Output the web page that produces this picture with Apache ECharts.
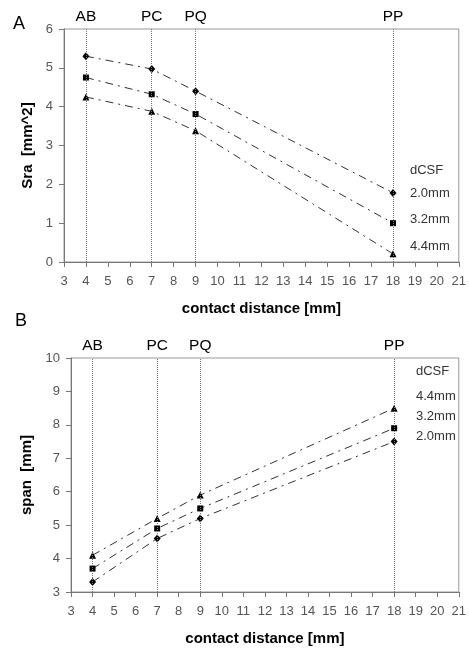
<!DOCTYPE html>
<html>
<head>
<meta charset="utf-8">
<script src="https://cdn.jsdelivr.net/npm/echarts@6/dist/echarts.min.js"></script>
<style>
html,body{margin:0;padding:0;background:#fff;}
#chart{width:469px;height:650px;}
</style>
</head>
<body>
<div id="chart"></div>
<script>
// Data
const contactDistance = [4, 7, 9, 18];
const contactLabels = ['AB', 'PC', 'PQ', 'PP'];
const seriesNames = ['2.0mm', '3.2mm', '4.4mm'];
const sraValues = {
  '2.0mm': [5.30, 4.97, 4.40, 1.78],
  '3.2mm': [4.75, 4.32, 3.81, 1.00],
  '4.4mm': [4.25, 3.88, 3.38, 0.21]
};
const spanValues = {
  '2.0mm': [3.3, 4.6, 5.2, 7.5],
  '3.2mm': [3.7, 4.9, 5.5, 7.9],
  '4.4mm': [4.1, 5.2, 5.9, 8.5]
};
const legendTitle = 'dCSF';
const symbols = {'2.0mm': 'diamond', '3.2mm': 'rect', '4.4mm': 'triangle'};
const symbolSizes = {'2.0mm': [7, 8], '3.2mm': 6, '4.4mm': 7};

const FONT = 'Liberation Sans, Arial, sans-serif';
const chart = echarts.init(document.getElementById('chart'));

function pairs(vals) { return contactDistance.map((x, i) => [x, vals[i]]); }

function xAxisDef(idx) {
  return {
    type: 'value', gridIndex: idx, min: 3, max: 21, interval: 1,
    name: 'contact distance [mm]', nameLocation: 'middle', nameGap: 39,
    nameTextStyle: {fontFamily: FONT, fontWeight: 'bold', fontSize: 15, color: '#000'},
    axisLine: {show: true, onZero: false, lineStyle: {color: '#777', width: 1}},
    axisTick: {show: true, length: 5, lineStyle: {color: '#777'}},
    axisLabel: {fontFamily: FONT, fontSize: 13, color: '#555', margin: 13},
    splitLine: {show: false}
  };
}
function yAxisDef(idx, min, max, name) {
  return {
    type: 'value', gridIndex: idx, min: min, max: max, interval: 1,
    name: name, nameLocation: 'middle', nameGap: 25, nameRotate: 90,
    nameTextStyle: {fontFamily: FONT, fontWeight: 'bold', fontSize: 15, color: '#000'},
    axisLine: {show: true, onZero: false, lineStyle: {color: '#777', width: 1}},
    axisTick: {show: true, length: 5, lineStyle: {color: '#777'}},
    axisLabel: {fontFamily: FONT, fontSize: 13, color: '#555', margin: 11},
    splitLine: {show: false}
  };
}

const series = [];
[sraValues, spanValues].forEach((dataset, gi) => {
  seriesNames.forEach((nm, si) => {
    const s = {
      type: 'line', name: nm, xAxisIndex: gi, yAxisIndex: gi,
      data: pairs(dataset[nm]),
      symbol: symbols[nm], symbolSize: symbolSizes[nm], showAllSymbol: true,
      itemStyle: {color: '#000'},
      lineStyle: {color: '#333', width: 1, type: [8, 5, 2, 5]},
      animation: false, z: 3
    };
    if (si === 0) {
      s.markLine = {
        silent: true, symbol: 'none', animation: false,
        lineStyle: {color: '#777', type: 'dotted', width: 1},
        label: {show: true, position: 'end', formatter: '{b}', distance: 4,
          fontFamily: FONT, fontSize: 15.5, color: '#000'},
        data: contactDistance.map((x, i) => ({xAxis: x, name: contactLabels[i]}))
      };
    }
    series.push(s);
  });
});

function legendTexts(left, ys, labels) {
  return labels.map((t, i) => ({
    type: 'text', left: left, top: ys[i] - 7,
    style: {text: t, fontFamily: FONT, fontSize: 13, fill: '#333'}
  }));
}

const graphic = [
  {type: 'text', left: 13, top: 15, style: {text: 'A', fontFamily: FONT, fontSize: 18, fill: '#000'}},
  {type: 'text', left: 15, top: 312, style: {text: 'B', fontFamily: FONT, fontSize: 18, fill: '#000'}}
]
.concat(legendTexts(410, [171, 194, 220, 247], [legendTitle, seriesNames[0], seriesNames[1], seriesNames[2]]))
.concat(legendTexts(416, [372, 397, 417, 437], [legendTitle, seriesNames[2], seriesNames[1], seriesNames[0]]));

chart.setOption({
  animation: false,
  backgroundColor: '#fff',
  grid: [
    {left: 64, top: 29, width: 399, height: 233, show: true, borderColor: '#999', borderWidth: 1, backgroundColor: '#fff'},
    {left: 71, top: 358, width: 392, height: 234, show: true, borderColor: '#999', borderWidth: 1, backgroundColor: '#fff'}
  ],
  xAxis: [xAxisDef(0), xAxisDef(1)],
  yAxis: [yAxisDef(0, 0, 6, 'Sra  [mm^2]'), yAxisDef(1, 3, 10, 'span  [mm]')],
  series: series,
  graphic: graphic
});
</script>
</body>
</html>
